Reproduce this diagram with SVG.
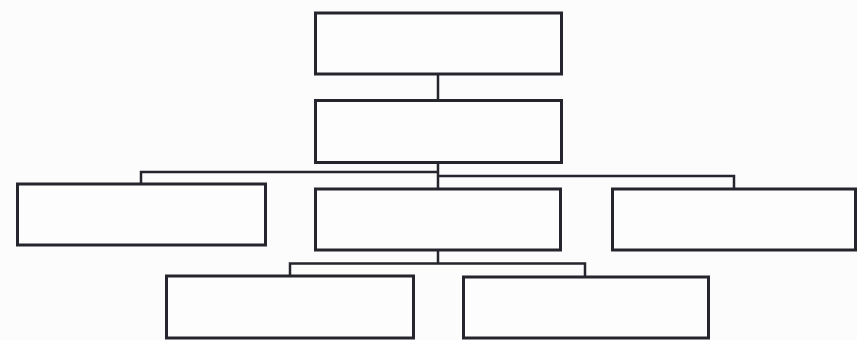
<svg xmlns="http://www.w3.org/2000/svg" width="857" height="340" viewBox="0 0 857 340">
<style>
.box{fill:#fdfdfe;stroke:#25252e;stroke-width:3}
.con{fill:none;stroke:#25252e;stroke-width:2.5}
</style>
<rect width="857" height="340" fill="#fcfcfd"/>
<g id="connectors">
<path class="con" d="M438 74V100"/>
<path class="con" d="M438 163V263"/>
<path class="con" d="M438 172H141V184"/>
<path class="con" d="M438 176H734V189"/>
<path class="con" d="M438 263.5H290V276"/>
<path class="con" d="M438 263.5H585V277"/>
</g>
<g id="n1"><rect class="box" x="315.5" y="13" width="246" height="61"/></g>
<g id="n2"><rect class="box" x="315.5" y="100.5" width="246" height="62"/></g>
<g id="n3"><rect class="box" x="17.5" y="184" width="248" height="61"/></g>
<g id="n4"><rect class="box" x="315.5" y="189" width="245" height="61"/></g>
<g id="n5"><rect class="box" x="612.5" y="189" width="243" height="61"/></g>
<g id="n6"><rect class="box" x="166.5" y="276" width="247" height="62"/></g>
<g id="n7"><rect class="box" x="463.5" y="277" width="245" height="61"/></g>
</svg>
